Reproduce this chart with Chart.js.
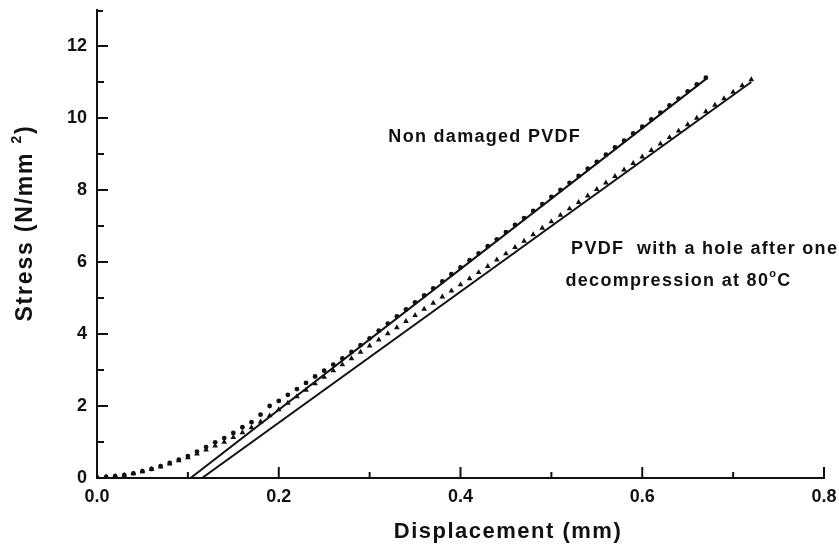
<!DOCTYPE html>
<html>
<head>
<meta charset="utf-8">
<script src="https://cdn.jsdelivr.net/npm/chart.js@4.4.0/dist/chart.umd.min.js"></script>
<style>
  html, body { margin: 0; padding: 0; background: #fff; }
  #wrap { width: 839px; height: 549px; }
</style>
</head>
<body>
<div id="wrap"><canvas id="stress_chart"></canvas></div>
<script>
// non damaged PVDF (dots)
const nonDamagedX = [0.00, 0.01, 0.02, 0.03, 0.04, 0.05, 0.06, 0.07, 0.08, 0.09,
  0.10, 0.11, 0.12, 0.13, 0.14, 0.15, 0.16, 0.17, 0.18, 0.19,
  0.20, 0.21, 0.22, 0.23, 0.24, 0.25, 0.26, 0.27, 0.28, 0.29,
  0.30, 0.31, 0.32, 0.33, 0.34, 0.35, 0.36, 0.37, 0.38, 0.39,
  0.40, 0.41, 0.42, 0.43, 0.44, 0.45, 0.46, 0.47, 0.48, 0.49,
  0.50, 0.51, 0.52, 0.53, 0.54, 0.55, 0.56, 0.57, 0.58, 0.59,
  0.60, 0.61, 0.62, 0.63, 0.64, 0.65, 0.66, 0.67];
const nonDamagedY = [0.02, 0.03, 0.05, 0.08, 0.13, 0.19, 0.25, 0.33, 0.42, 0.51,
  0.61, 0.73, 0.86, 0.99, 1.11, 1.25, 1.41, 1.55, 1.76, 2.00,
  2.14, 2.31, 2.47, 2.64, 2.82, 2.98, 3.15, 3.32, 3.50, 3.69,
  3.88, 4.09, 4.29, 4.49, 4.68, 4.88, 5.07, 5.27, 5.46, 5.66,
  5.85, 6.05, 6.24, 6.44, 6.63, 6.83, 7.03, 7.22, 7.42, 7.61,
  7.81, 8.00, 8.20, 8.39, 8.59, 8.78, 8.98, 9.18, 9.37, 9.57,
  9.76, 9.96, 10.15, 10.35, 10.54, 10.74, 10.93, 11.12];

// PVDF with a hole (triangles)
const holeX = [0.00, 0.01, 0.02, 0.03, 0.04, 0.05, 0.06, 0.07, 0.08, 0.09,
  0.10, 0.11, 0.12, 0.13, 0.14, 0.15, 0.16, 0.17, 0.18, 0.19,
  0.20, 0.21, 0.22, 0.23, 0.24, 0.25, 0.26, 0.27, 0.28, 0.29,
  0.30, 0.31, 0.32, 0.33, 0.34, 0.35, 0.36, 0.37, 0.38, 0.39,
  0.40, 0.41, 0.42, 0.43, 0.44, 0.45, 0.46, 0.47, 0.48, 0.49,
  0.50, 0.51, 0.52, 0.53, 0.54, 0.55, 0.56, 0.57, 0.58, 0.59,
  0.60, 0.61, 0.62, 0.63, 0.64, 0.65, 0.66, 0.67, 0.68, 0.69,
  0.70, 0.71, 0.72];
const holeY = [0.02, 0.03, 0.05, 0.08, 0.12, 0.18, 0.24, 0.31, 0.39, 0.48,
  0.57, 0.67, 0.78, 0.89, 1.00, 1.13, 1.26, 1.40, 1.56, 1.73,
  1.90, 2.08, 2.26, 2.44, 2.62, 2.80, 2.98, 3.15, 3.32, 3.50,
  3.67, 3.84, 4.01, 4.18, 4.35, 4.52, 4.69, 4.86, 5.03, 5.20,
  5.37, 5.54, 5.71, 5.88, 6.06, 6.23, 6.41, 6.58, 6.76, 6.94,
  7.12, 7.30, 7.48, 7.66, 7.84, 8.02, 8.20, 8.38, 8.56, 8.74,
  8.92, 9.10, 9.28, 9.46, 9.64, 9.82, 10.00, 10.18, 10.36, 10.54,
  10.72, 10.90, 11.07];

// linear fits (solid lines)
const fitNonDamagedX = [0.103, 0.671];
const fitNonDamagedY = [0, 11.10];
const fitHoleX = [0.1156, 0.72];
const fitHoleY = [0, 11.0];

// ticks
const yMajor = [2, 4, 6, 8, 10, 12];
const yMinor = [1, 3, 5, 7, 9, 11];
const xMajor = [0.2, 0.4, 0.6, 0.8];
const xMinor = [0.1, 0.3, 0.5, 0.7];

const FONT = "'Liberation Sans', Arial, Helvetica, sans-serif";

function pts(xs, ys) {
  return xs.map((x, i) => ({ x: x, y: ys[i] }));
}

// text with superscript pieces, drawn left to right from (x, y)
function richText(ctx, parts, x, y, size, measureOnly) {
  let cx = x;
  parts.forEach(p => {
    const s = p.sup ? Math.round(size * 0.62) : size;
    ctx.font = 'bold ' + s + 'px ' + FONT;
    if (!measureOnly) ctx.fillText(p.t, cx, p.sup ? y - size * 0.38 : y);
    cx += ctx.measureText(p.t).width;
  });
  return cx - x;
}

const decor = {
  id: 'decor',
  afterDraw(chart) {
    const ctx = chart.ctx;
    const xs = chart.scales.x, ys = chart.scales.y;
    const left = chart.chartArea.left, bottom = chart.chartArea.bottom;
    ctx.save();
    ctx.strokeStyle = '#111';
    ctx.lineWidth = 2;
    ctx.beginPath();
    yMajor.forEach(v => { const p = ys.getPixelForValue(v); ctx.moveTo(left, p); ctx.lineTo(left + 11, p); });
    yMinor.forEach(v => { const p = ys.getPixelForValue(v); ctx.moveTo(left, p); ctx.lineTo(left + 7, p); });
    const top = ys.getPixelForValue(13);
    ctx.moveTo(left, top + 1); ctx.lineTo(left + 6, top + 1);
    xMajor.forEach(v => { const p = xs.getPixelForValue(v); ctx.moveTo(p, bottom); ctx.lineTo(p, bottom - 11); });
    xMinor.forEach(v => { const p = xs.getPixelForValue(v); ctx.moveTo(p, bottom); ctx.lineTo(p, bottom - 6); });
    ctx.stroke();

    ctx.fillStyle = '#111';
    ctx.textBaseline = 'middle';
    ctx.textAlign = 'left';
    ctx.letterSpacing = '1.3px';
    richText(ctx, [{ t: 'Non damaged PVDF' }], xs.getPixelForValue(0.3206), ys.getPixelForValue(9.47), 18);
    richText(ctx, [{ t: 'PVDF  with a hole after one' }], xs.getPixelForValue(0.5217), ys.getPixelForValue(6.35), 18);
    richText(ctx, [{ t: 'decompression at 80' }, { t: 'o', sup: true }, { t: 'C' }], xs.getPixelForValue(0.5155), ys.getPixelForValue(5.47), 18);

    // axis titles
    ctx.letterSpacing = '1.5px';
    ctx.font = 'bold 22px ' + FONT;
    ctx.textAlign = 'center';
    ctx.fillText('Displacement (mm)', 508, 532);

    ctx.textAlign = 'left';
    ctx.letterSpacing = '1.8px';
    ctx.translate(26, 223);
    ctx.rotate(-Math.PI / 2);
    const parts = [{ t: 'Stress (N/mm ' }, { t: '2', sup: true }, { t: ')' }];
    const w = richText(ctx, parts, 0, 0, 23, true);
    richText(ctx, parts, -w / 2, 0, 23);
    ctx.restore();
  }
};

const ctx = document.getElementById('stress_chart').getContext('2d');
const stressChart = new Chart(ctx, {
  type: 'scatter',
  data: {
    datasets: [{
      label: 'Non damaged PVDF fit',
      data: pts(fitNonDamagedX, fitNonDamagedY),
      showLine: true,
      borderColor: '#111',
      borderWidth: 2,
      pointRadius: 0
    }, {
      label: 'PVDF with a hole fit',
      data: pts(fitHoleX, fitHoleY),
      showLine: true,
      borderColor: '#111',
      borderWidth: 2,
      pointRadius: 0
    }, {
      label: 'Non damaged PVDF',
      data: pts(nonDamagedX, nonDamagedY),
      pointStyle: 'circle',
      pointRadius: 2.4,
      borderWidth: 0,
      backgroundColor: '#111'
    }, {
      label: 'PVDF with a hole after one decompression at 80oC',
      data: pts(holeX, holeY),
      pointStyle: 'triangle',
      pointRadius: 3.3,
      borderWidth: 0,
      backgroundColor: '#111'
    }]
  },
  options: {
    responsive: true,
    maintainAspectRatio: false,
    animation: false,
    layout: {
      padding: { top: 10, right: 15, left: 0, bottom: 0 }
    },
    plugins: {
      legend: { display: false },
      tooltip: { enabled: false },
      title: { display: false }
    },
    scales: {
      x: {
        type: 'linear',
        min: 0,
        max: 0.8,
        afterFit: s => { s.height = 71; s.paddingLeft = 0; s.paddingRight = 0; },
        grid: { display: true, drawOnChartArea: false, drawTicks: false },
        border: { display: true, width: 2, color: '#111' },
        ticks: {
          stepSize: 0.2,
          padding: 8,
          color: '#111',
          font: { family: FONT, size: 18, weight: 'bold' },
          callback: v => Number(v).toFixed(1)
        }
      },
      y: {
        type: 'linear',
        min: 0,
        max: 13,
        afterFit: s => { s.width = 97; s.paddingTop = 0; s.paddingBottom = 0; },
        grid: { display: true, drawOnChartArea: false, drawTicks: false },
        border: { display: true, width: 2, color: '#111' },
        ticks: {
          stepSize: 2,
          includeBounds: false,
          padding: 10,
          color: '#111',
          font: { family: FONT, size: 18, weight: 'bold' }
        }
      }
    }
  },
  plugins: [decor]
});
</script>
</body>
</html>
